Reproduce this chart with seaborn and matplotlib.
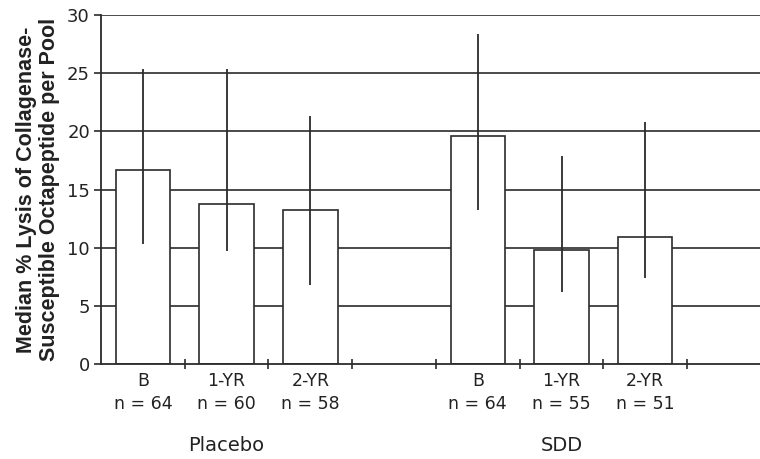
import numpy as np
import pandas as pd
import matplotlib
matplotlib.use("Agg")
import matplotlib.pyplot as plt
import seaborn as sns

# data
groups = ["Placebo", "Placebo", "Placebo", "SDD", "SDD", "SDD"]
visits = ["B", "1-YR", "2-YR", "B", "1-YR", "2-YR"]
n_counts = [64, 60, 58, 64, 55, 51]
medians = [16.7, 13.8, 13.2, 19.6, 9.8, 10.9]
lower = [10.3, 9.7, 6.8, 13.2, 6.2, 7.4]
upper = [25.4, 25.4, 21.3, 28.4, 17.9, 20.8]

df = pd.DataFrame({"group": groups, "visit": visits, "n": n_counts,
                   "median": medians, "lo": lower, "hi": upper})
df["key"] = df["group"] + " " + df["visit"]
order = list(df["key"][:3]) + ["gap1"] + list(df["key"][3:]) + ["gap2"]

sns.set_style("white")
plt.rcParams["font.family"] = ["DejaVu Sans"]
ink = "#2b2b2b"

fig = plt.figure(figsize=(7.6, 4.59), dpi=100)
ax = fig.add_axes([0.1329, 0.207, 0.8671, 0.760])

# horizontal grid behind bars
for v in range(5, 31, 5):
    ax.axhline(v, color=ink, lw=1.2, zorder=0)

sns.barplot(data=df, x="key", y="median", order=order, color="white",
            edgecolor=ink, linewidth=1.2, width=0.65, saturation=1,
            errorbar=None, ax=ax, zorder=2)

pos = [order.index(k) for k in df["key"]]
ax.vlines(pos, df["lo"], df["hi"], color=ink, lw=1.3, zorder=3)

ax.set_xlim(-0.5, 7.37)
ax.set_ylim(0, 30)
ax.set_yticks(range(0, 31, 5))
ax.tick_params(axis="y", left=True, length=5, width=1.2, color=ink,
               labelsize=13, labelcolor="#222222", pad=3)

ax.set_xticks(pos)
ax.set_xticklabels([f"{v}\nn = {n}" for v, n in zip(df["visit"], df["n"])],
                   fontsize=12.5, color="#222222", linespacing=1.3)
ax.tick_params(axis="x", which="major", bottom=False, length=0, pad=6)
ax.set_xticks(np.arange(0.5, 7, 1.0), minor=True)
ax.tick_params(axis="x", which="minor", bottom=True, length=7, width=1.2,
               color=ink, direction="inout")

for side in ["top", "right"]:
    ax.spines[side].set_visible(False)
for side in ["left", "bottom"]:
    ax.spines[side].set_color(ink)
    ax.spines[side].set_linewidth(1.3)

ax.set_xlabel("")
ax.set_ylabel("Median % Lysis of Collagenase-\nSusceptible Octapeptide per Pool",
              fontsize=15.5, fontweight="bold", family=["Liberation Sans"],
              color="#222222", linespacing=1.1, labelpad=5)

# group labels under the tick labels
for name, center in [("Placebo", 1), ("SDD", 5)]:
    ax.text(center, -7.0, name, ha="center", va="center", fontsize=14,
            color="#222222", clip_on=False)

fig.savefig("out.png", dpi=100)
